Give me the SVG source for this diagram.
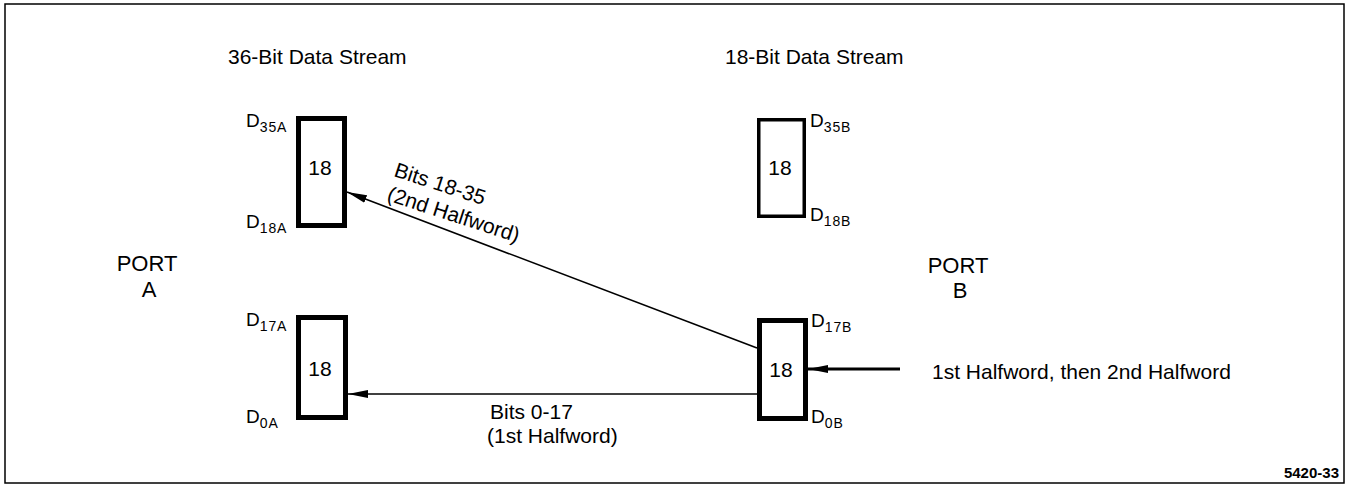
<svg xmlns="http://www.w3.org/2000/svg" width="1350" height="487" viewBox="0 0 1350 487">
<style>
text{font-family:"Liberation Sans",Arial,sans-serif;fill:#000}
.t{font-size:21px}
.p{font-size:22px;text-anchor:middle}
.n{font-size:21px;text-anchor:middle}
.d{font-size:19px}
.s{font-size:14px;letter-spacing:0.9px}
.box{fill:#fff;stroke:#000}
.ln{stroke:#000;fill:none}
</style>
<defs>
<marker id="ah" viewBox="0 0 20 8" refX="20" refY="4" markerWidth="20" markerHeight="8" markerUnits="userSpaceOnUse" orient="auto">
<path d="M0,0 L20,4 L0,8 z" fill="#000"/>
</marker>
</defs>
<rect x="5" y="4" width="1339" height="479" fill="none" stroke="#000" stroke-width="1.5"/>
<text class="t" x="228" y="64">36-Bit Data Stream</text>
<text class="t" x="725" y="64">18-Bit Data Stream</text>
<g id="portA"><text class="p" x="147" y="271">PORT</text><text class="p" x="149" y="297">A</text></g>
<g id="portB"><text class="p" x="958" y="273">PORT</text><text class="p" x="960" y="298">B</text></g>
<g id="boxA1">
<rect class="box" x="298.5" y="118.5" width="46" height="107" stroke-width="5"/>
<text class="n" x="320" y="175">18</text>
<text class="d" x="246" y="127">D<tspan class="s" dy="5">35A</tspan></text>
<text class="d" x="246" y="228">D<tspan class="s" dy="5">18A</tspan></text>
</g>
<g id="boxA0">
<rect class="box" x="298.5" y="317.5" width="47" height="100" stroke-width="5"/>
<text class="n" x="320" y="376">18</text>
<text class="d" x="246" y="326">D<tspan class="s" dy="5">17A</tspan></text>
<text class="d" x="246" y="423">D<tspan class="s" dy="5">0A</tspan></text>
</g>
<g id="boxB1">
<rect class="box" x="758.75" y="119.75" width="45.5" height="96.5" stroke-width="3.5"/>
<text class="n" x="780" y="175">18</text>
<text class="d" x="810" y="127">D<tspan class="s" dy="5">35B</tspan></text>
<text class="d" x="810" y="221">D<tspan class="s" dy="5">18B</tspan></text>
</g>
<g id="boxB0">
<rect class="box" x="759.5" y="320.5" width="46" height="98" stroke-width="5"/>
<text class="n" x="781" y="377">18</text>
<text class="d" x="811" y="327">D<tspan class="s" dy="5">17B</tspan></text>
<text class="d" x="811" y="423">D<tspan class="s" dy="5">0B</tspan></text>
</g>
<g id="connectors">
<line class="ln" x1="757" y1="348" x2="347" y2="192" stroke-width="1.6" marker-end="url(#ah)"/>
<line class="ln" x1="757" y1="394" x2="348" y2="394" stroke-width="1.6" marker-end="url(#ah)"/>
<line class="ln" x1="900" y1="369" x2="808" y2="369" stroke-width="3" marker-end="url(#ah)"/>
</g>
<g id="labels">
<text class="t" transform="translate(393,176) rotate(18)">Bits 18-35</text>
<text class="t" transform="translate(386,200) rotate(18)">(2nd Halfword)</text>
<text class="t" x="490" y="419">Bits 0-17</text>
<text class="t" x="487" y="443">(1st Halfword)</text>
<text class="t" x="932" y="379">1st Halfword, then 2nd Halfword</text>
</g>
<text x="1339" y="478" font-size="15" font-weight="bold" text-anchor="end">5420-33</text>
</svg>
